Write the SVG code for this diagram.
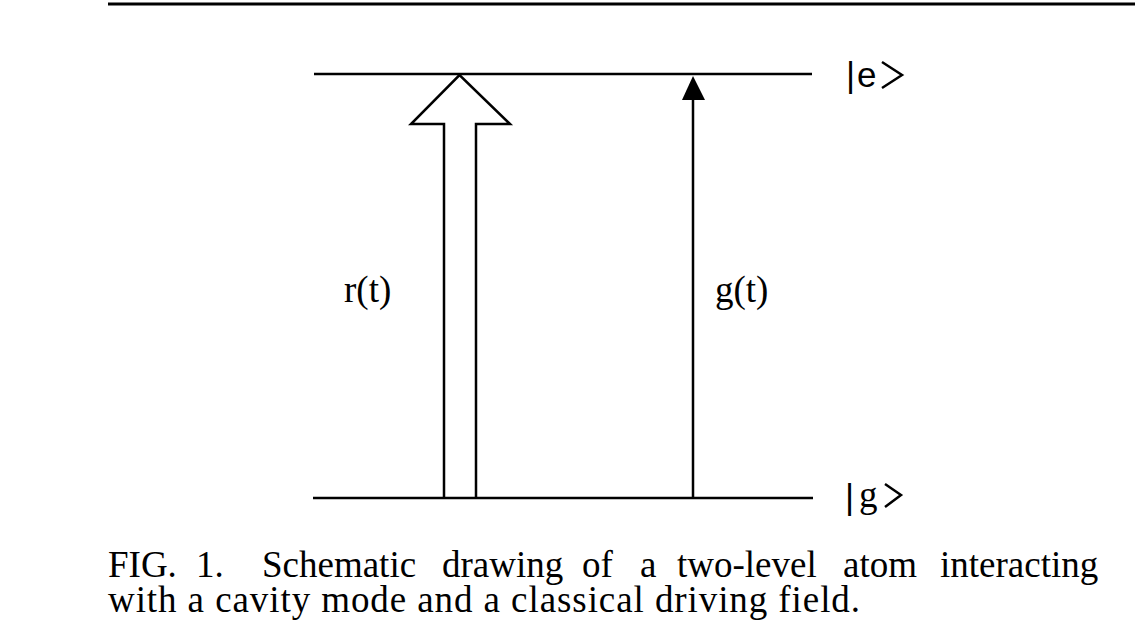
<svg xmlns="http://www.w3.org/2000/svg" width="1135" height="632" viewBox="0 0 1135 632">
<defs>
<style>
.ln{stroke:#000;stroke-width:2.5;fill:none}
.lbl{font-family:"Liberation Serif","Times New Roman",serif;font-size:37px;fill:#000}
.cap{font-family:"Liberation Serif","Times New Roman",serif;font-size:37px;fill:#000}
.ket{font-family:"Liberation Sans",Arial,sans-serif;font-size:35px;fill:#000}
</style>
</defs>
<rect width="1135" height="632" fill="#fff"/>
<line x1="108" y1="4" x2="1135" y2="4" stroke="#000" stroke-width="3"/>
<g id="level-e">
<line class="ln" x1="314" y1="74" x2="812" y2="74"/>
<text class="ket" x="846" y="87">|</text>
<text class="ket" x="857" y="87">e</text>
<path d="M882 62 L902 75 L882 88" class="ln" stroke-width="2"/>
</g>
<g id="level-g">
<line class="ln" x1="313" y1="498" x2="813" y2="498"/>
<text class="ket" x="845" y="509">|</text>
<text class="lbl" x="859" y="507">g</text>
<path d="M885 484 L901 495 L885 507" class="ln" stroke-width="2"/>
</g>
<g id="connectors">
<g id="r-arrow">
<path class="ln" d="M444 498 L444 124 L411 124 L459.5 75 L510 124 L476 124 L476 498"/>
<text class="lbl" x="344" y="302">r(t)</text>
</g>
<g id="g-arrow">
<line class="ln" x1="693" y1="498" x2="693" y2="98"/>
<polygon points="693,76 682,100 705,100" fill="#000"/>
<text class="lbl" x="715" y="302">g(t)</text>
</g>
</g>
<g id="caption" class="cap">
<text x="108" y="577">FIG.</text>
<text x="196" y="577">1.</text>
<text x="262" y="577">Schematic</text>
<text x="442" y="577">drawing</text>
<text x="582" y="577">of</text>
<text x="640" y="577">a</text>
<text x="677" y="577">two-level</text>
<text x="843" y="577">atom</text>
<text x="940" y="577">interacting</text>
<text x="108" y="612" textLength="752" lengthAdjust="spacing">with a cavity mode and a classical driving field.</text>
</g>
</svg>
